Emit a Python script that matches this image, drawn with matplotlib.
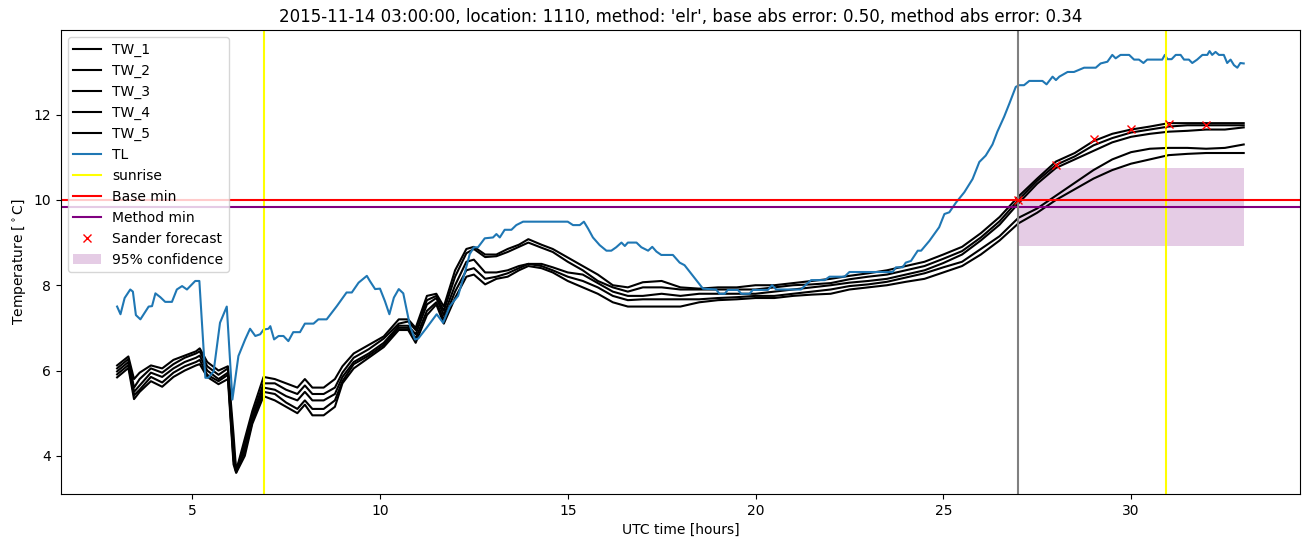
import matplotlib
matplotlib.use("Agg")
import matplotlib.pyplot as plt
import numpy as np

# ---------------- data ----------------
tl_t = [3.0, 3.09, 3.2, 3.35, 3.42, 3.5, 3.62, 3.84, 3.93, 4.02, 4.15, 4.28, 4.46, 4.59, 4.73,
        4.86, 4.99, 5.08, 5.19, 5.35, 5.43, 5.57, 5.74, 5.92, 6.07, 6.23, 6.41, 6.54, 6.68, 6.81,
        6.9, 7.03, 7.08, 7.18, 7.3, 7.43, 7.56, 7.69, 7.87, 8.0, 8.23, 8.36, 8.58, 8.85, 9.11,
        9.25, 9.43, 9.65, 9.73, 9.87, 10.0, 10.13, 10.25, 10.37, 10.5, 10.62, 10.8, 10.93, 11.02,
        11.24, 11.51, 11.68, 11.86, 12.08, 12.26, 12.39, 12.5, 12.61, 12.79, 13.01, 13.1, 13.19,
        13.32, 13.5, 13.63, 13.81, 15.0, 15.14, 15.32, 15.43, 15.54, 15.67, 15.85, 16.03, 16.16,
        16.29, 16.43, 16.52, 16.6, 16.83, 16.96, 17.14, 17.25, 17.36, 17.49, 17.8, 17.98, 18.11,
        18.6, 18.95, 19.04, 19.18, 19.26, 19.53, 19.62, 19.84, 19.93, 20.33, 20.44, 20.55, 21.21,
        21.35, 21.48, 21.84, 21.97, 22.37, 22.5, 23.65, 23.74, 23.92, 24.0, 24.14, 24.32, 24.41,
        24.63, 24.89, 25.03, 25.16, 25.34, 25.56, 25.78, 25.96, 26.13, 26.31, 26.44, 26.62, 26.76,
        26.93, 27.02, 27.15, 27.29, 27.64, 27.75, 27.91, 28.0, 28.09, 28.31, 28.48, 28.75, 29.06,
        29.19, 29.37, 29.5, 29.59, 29.72, 29.95, 30.08, 30.21, 30.33, 30.43, 30.83, 30.9, 30.97,
        31.08, 31.19, 31.32, 31.41, 31.54, 31.63, 31.76, 31.9, 32.03, 32.09, 32.16, 32.25, 32.34,
        32.47, 32.56, 32.65, 32.74, 32.83, 32.91, 33.0]
tl_v = [7.5, 7.32, 7.7, 7.9, 7.85, 7.3, 7.2, 7.5, 7.51, 7.81, 7.72, 7.61, 7.61, 7.9, 7.98,
        7.9, 8.02, 8.1, 8.1, 5.83, 5.83, 5.98, 7.12, 7.5, 5.32, 6.34, 6.73, 6.98, 6.81, 6.85,
        6.96, 6.98, 7.04, 6.73, 6.81, 6.81, 6.69, 6.9, 6.9, 7.1, 7.1, 7.2, 7.2, 7.51, 7.83,
        7.83, 8.06, 8.22, 8.1, 7.91, 7.92, 7.63, 7.32, 7.71, 7.91, 7.81, 7.04, 6.73, 6.75,
        7.0, 7.32, 7.12, 7.51, 7.75, 8.3, 8.73, 8.89, 8.89, 9.1, 9.12, 9.2, 9.12,
        9.3, 9.3, 9.41, 9.49, 9.49, 9.41, 9.41, 9.49, 9.33, 9.12, 8.94, 8.81, 8.81,
        8.89, 9.0, 8.92, 9.0, 9.0, 8.89, 8.81, 8.9, 8.79, 8.71, 8.71, 8.53, 8.47,
        7.92, 7.9, 7.8, 7.8, 7.89, 7.89, 7.8, 7.8, 7.89, 7.89, 8.0, 7.9, 7.9,
        8.02, 8.12, 8.12, 8.2, 8.2, 8.31, 8.31, 8.42, 8.42, 8.53, 8.57, 8.81, 8.81,
        9.04, 9.36, 9.67, 9.71, 9.94, 10.18, 10.49, 10.89, 11.04, 11.3, 11.6, 11.95, 12.26,
        12.65, 12.69, 12.69, 12.79, 12.79, 12.71, 12.89, 12.81, 12.89, 13.0, 13.0, 13.1, 13.1,
        13.2, 13.24, 13.4, 13.32, 13.4, 13.4, 13.29, 13.29, 13.21, 13.29, 13.29, 13.4, 13.3,
        13.3, 13.4, 13.4, 13.29, 13.29, 13.21, 13.29, 13.4, 13.4, 13.49, 13.4, 13.47, 13.4,
        13.4, 13.21, 13.29, 13.16, 13.1, 13.21, 13.2]

tw_t = [3.0, 3.3, 3.45, 3.6, 3.9, 4.2, 4.5, 4.8, 5.1, 5.2, 5.4, 5.7, 5.95, 6.1, 6.17, 6.4, 6.6,
        6.9, 7.2, 7.5, 7.8, 8.0, 8.2, 8.5, 8.8, 9.0, 9.3, 9.7, 10.1, 10.5, 10.75, 10.95, 11.25,
        11.5, 11.7, 12.0, 12.3, 12.5, 12.8, 13.1, 13.4, 13.7, 13.95, 14.3, 14.6, 15.0, 15.4,
        15.8, 16.2, 16.6, 17.0, 17.5, 18.0, 18.5, 19.0, 19.5, 20.0, 20.5, 21.0, 21.5, 22.0,
        22.5, 23.0, 23.5, 24.0, 24.5, 25.0, 25.5, 26.0, 26.5, 27.0, 27.5, 28.0, 28.5, 29.0,
        29.5, 30.0, 30.5, 31.0, 31.5, 32.0, 32.5, 33.0]
tw_1 = [6.12, 6.33, 5.8, 5.95, 6.12, 6.05, 6.25, 6.35, 6.45, 6.52, 6.2, 6.0, 6.1, 4.5, 3.65, 4.4, 5.05,
        5.85, 5.8, 5.7, 5.6, 5.8, 5.6, 5.6, 5.8, 6.1, 6.4, 6.6, 6.8, 7.2, 7.2, 7.0, 7.75,
        7.8, 7.5, 8.35, 8.85, 8.9, 8.72, 8.72, 8.85, 8.95, 9.08, 8.95, 8.85, 8.65, 8.45,
        8.25, 8.0, 7.95, 8.07, 8.1, 7.95, 7.92, 7.95, 7.95, 8.0, 8.0, 8.05, 8.1, 8.15,
        8.22, 8.28, 8.35, 8.45, 8.55, 8.72, 8.9, 9.22, 9.6, 10.08, 10.5, 10.9, 11.1, 11.38,
        11.55, 11.65, 11.72, 11.8, 11.8, 11.8, 11.8, 11.8]
tw_2 = [6.05, 6.27, 5.6, 5.8, 6.05, 5.95, 6.15, 6.3, 6.4, 6.45, 6.1, 5.9, 6.05, 4.2, 3.63, 4.3, 4.95,
        5.7, 5.7, 5.55, 5.45, 5.65, 5.45, 5.45, 5.6, 5.95, 6.3, 6.5, 6.75, 7.1, 7.15, 6.95, 7.65,
        7.75, 7.4, 8.2, 8.75, 8.85, 8.66, 8.68, 8.78, 8.9, 9.0, 8.88, 8.78, 8.55, 8.35,
        8.1, 7.95, 7.85, 7.95, 7.95, 7.9, 7.9, 7.9, 7.9, 7.9, 7.95, 8.0, 8.02, 8.05,
        8.14, 8.2, 8.25, 8.35, 8.45, 8.62, 8.8, 9.12, 9.5, 10.0, 10.45, 10.82, 11.02, 11.28,
        11.45, 11.58, 11.65, 11.72, 11.75, 11.75, 11.75, 11.75]
tw_3 = [5.98, 6.2, 5.5, 5.65, 5.95, 5.85, 6.05, 6.2, 6.3, 6.35, 6.0, 5.8, 5.95, 4.0, 3.62, 4.2, 4.88,
        5.6, 5.55, 5.4, 5.3, 5.5, 5.3, 5.3, 5.45, 5.85, 6.2, 6.4, 6.65, 7.05, 7.05, 6.85, 7.55,
        7.7, 7.3, 8.0, 8.55, 8.6, 8.3, 8.3, 8.35, 8.45, 8.5, 8.5, 8.42, 8.3, 8.25,
        8.05, 7.85, 7.75, 7.75, 7.8, 7.75, 7.8, 7.8, 7.8, 7.8, 7.85, 7.9, 7.95, 8.0,
        8.06, 8.1, 8.15, 8.25, 8.35, 8.52, 8.72, 9.05, 9.42, 9.92, 10.38, 10.75, 10.95, 11.15,
        11.35, 11.48, 11.55, 11.6, 11.62, 11.65, 11.65, 11.7]
tw_4 = [5.91, 6.13, 5.42, 5.55, 5.85, 5.72, 5.95, 6.1, 6.2, 6.25, 5.9, 5.75, 5.9, 3.9, 3.62, 4.1, 4.8,
        5.5, 5.45, 5.25, 5.1, 5.3, 5.1, 5.1, 5.3, 5.75, 6.15, 6.35, 6.6, 7.0, 7.0, 6.75, 7.4,
        7.6, 7.2, 7.85, 8.35, 8.4, 8.15, 8.2, 8.28, 8.4, 8.5, 8.45, 8.35, 8.2, 8.1,
        7.95, 7.75, 7.65, 7.67, 7.67, 7.67, 7.67, 7.7, 7.72, 7.75, 7.75, 7.8, 7.85, 7.9,
        7.98, 8.02, 8.08, 8.18, 8.28, 8.42, 8.55, 8.85, 9.15, 9.58, 9.8, 10.1, 10.4, 10.7,
        10.95, 11.12, 11.2, 11.22, 11.22, 11.2, 11.22, 11.3]
tw_5 = [5.84, 6.06, 5.33, 5.5, 5.75, 5.62, 5.85, 6.0, 6.12, 6.15, 5.85, 5.68, 5.8, 3.8, 3.6, 4.0, 4.75,
        5.4, 5.3, 5.15, 5.0, 5.2, 4.95, 4.95, 5.15, 5.7, 6.05, 6.3, 6.55, 6.95, 6.95, 6.65, 7.3,
        7.55, 7.1, 7.7, 8.2, 8.25, 8.02, 8.15, 8.2, 8.35, 8.45, 8.4, 8.3, 8.1, 7.95,
        7.8, 7.6, 7.5, 7.5, 7.5, 7.5, 7.6, 7.65, 7.67, 7.7, 7.7, 7.75, 7.78, 7.8,
        7.9, 7.95, 8.0, 8.08, 8.15, 8.3, 8.45, 8.72, 9.05, 9.45, 9.7, 10.0, 10.25, 10.5,
        10.7, 10.85, 10.95, 11.05, 11.08, 11.1, 11.1, 11.1]
tw_series = [tw_1, tw_2, tw_3, tw_4, tw_5]
tw_labels = ["TW_1", "TW_2", "TW_3", "TW_4", "TW_5"]

sunrise_times = [6.92, 30.92]
forecast_start = 27.0
base_min = 10.0
method_min = 9.84
sander_t = [27, 28, 29, 30, 31, 32]
sander_v = [10.0, 10.82, 11.44, 11.67, 11.79, 11.75]
conf_t = [27.0, 33.0]
conf_lo = [8.92, 8.92]
conf_hi = [10.75, 10.75]

title = ("2015-11-14 03:00:00, location: 1110, method: 'elr', "
         "base abs error: 0.50, method abs error: 0.34")

# ---------------- plot ----------------
fig = plt.figure(figsize=(13.1, 5.47), dpi=100)
ax = fig.add_axes([0.0464, 0.0969, 0.9460, 0.8483])

for vals, lab in zip(tw_series, tw_labels):
    ax.plot(tw_t, vals, color="black", label=lab)
ax.plot(tl_t, tl_v, color="C0", label="TL")
ax.axvline(sunrise_times[0], color="yellow", label="sunrise")
ax.axvline(sunrise_times[1], color="yellow")
ax.axhline(base_min, color="red", label="Base min")
ax.axhline(method_min, color="purple", label="Method min")
ax.axvline(forecast_start, color="grey")
ax.plot(sander_t, sander_v, "x", color="red", label="Sander forecast")
ax.fill_between(conf_t, conf_lo, conf_hi, color="purple", alpha=0.2,
                linewidth=0, label="95% confidence")

ax.set_title(title)
ax.set_xlabel("UTC time [hours]")
ax.set_ylabel(r"Temperature [$^\circ$C]")
ax.legend(loc="upper left")

fig.savefig("out.png", dpi=100)
